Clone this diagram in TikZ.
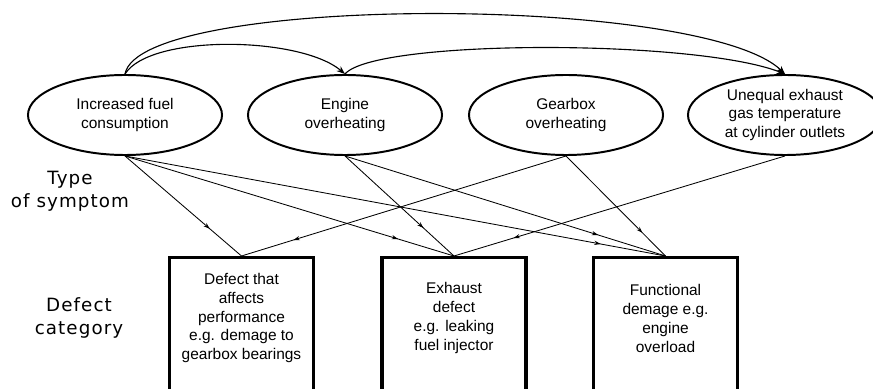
\documentclass[tikz,border=0pt]{standalone}
\usepackage{fontspec}
\setmainfont{Liberation Sans}
\newfontfamily\sidefont[LetterSpace=6]{DejaVu Sans}
\usetikzlibrary{shapes.geometric,arrows.meta,decorations.markings}

\begin{document}
\begin{tikzpicture}[x=0.025cm,y=0.025cm,
  symptom/.style={ellipse,draw,line width=1.4pt,minimum width=4.85cm,minimum height=2cm,inner sep=0pt,align=center,font=\fontsize{11}{13.5}\selectfont},
  category/.style={rectangle,draw,line width=2.4pt,minimum width=3.6cm,minimum height=3.6cm,anchor=north},
  boxtext/.style={align=center,font=\fontsize{11}{13.5}\selectfont},
  sidetext/.style={align=center,font=\sidefont\fontsize{13}{16.5}\selectfont},
  catlink/.style={line width=0.6pt,postaction={decorate},decoration={markings,mark=at position #1 with {\arrow{Stealth[length=4.5pt,width=3pt]}}}},
  toparc/.style={line width=0.8pt,-{Stealth[length=6pt,width=4.5pt]}}]
\path[use as bounding box,clip] (0,0) rectangle (873,388);
% types of symptom
\node[symptom] (e1) at (125,273) {Increased fuel\\consumption};
\node[symptom] (e2) at (345,273) {Engine\\overheating};
\node[symptom] (e3) at (566,273) {Gearbox\\overheating};
\node[symptom] (e4) at (785,273) {Unequal exhaust\\gas temperature\\at cylinder outlets};
% defect categories
\node[category] (b1) at (241.5,132) {};
\node[category] (b2) at (454,132) {};
\node[category] (b3) at (665.5,132) {};
\node[boxtext] (t1) at (241.5,70) {Defect that\\affects\\performance\\e.g. demage to\\gearbox bearings};
\node[boxtext] (t2) at (454,70) {Exhaust\\defect\\e.g. leaking\\fuel injector};
\node[boxtext] (t3) at (665.5,70) {Functional\\demage e.g.\\engine\\overload};
% row labels
\node[sidetext] (lt) at (70,197) {Type\\of symptom};
\node[sidetext] (lc) at (79,70) {Defect\\category};
% links
\draw[catlink=0.73] (e1.south) -- (b1.north);
\draw[catlink=0.83] (e1.south) -- (b2.north);
\draw[catlink=0.88] (e1.south) -- (b3.north);
\draw[catlink=0.72] (e2.south) -- (b2.north);
\draw[catlink=0.79] (e2.south) -- (b3.north);
\draw[catlink=0.84] (e3.south) -- (b1.north);
\draw[catlink=0.77] (e3.south) -- (b3.north);
\draw[catlink=0.82] (e4.south) -- (b2.north);
% arcs on top
\draw[toparc] (e1.north) .. controls +(15,80) and +(-83,80) .. (e4.north);
\draw[toparc] (e1.north) .. controls +(25,40) and +(-45,38) .. (e2.north);
\draw[toparc] (e2.north) .. controls +(30,35) and +(-90,35) .. (e4.north);
\end{tikzpicture}
\end{document}
